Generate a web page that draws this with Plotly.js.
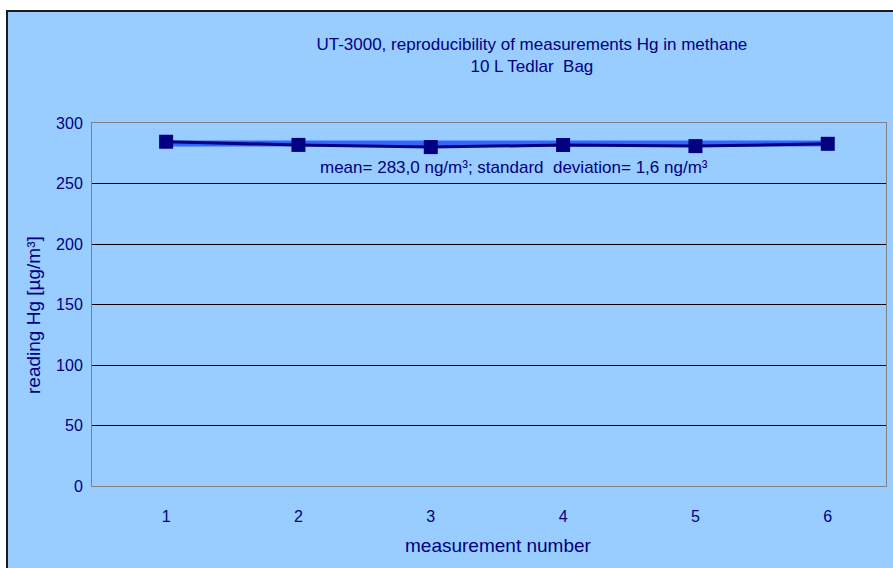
<!DOCTYPE html>
<html>
<head>
<meta charset="utf-8">
<script src="https://cdn.plot.ly/plotly-3.0.1.min.js"></script>
<style>
  html, body { margin:0; padding:0; background:#ffffff; width:893px; height:568px; overflow:hidden; }
  #frame { position:absolute; left:6px; top:10px; width:887px; height:558px; border-left:2px solid #1a1a1a; border-top:2px solid #1a1a1a; box-sizing:border-box; background:#99CCFF; }
  #chart { position:absolute; left:8px; top:12px; width:885px; height:556px; }
</style>
</head>
<body>
<div id="frame"></div>
<div id="chart"></div>
<script>
// Data
const measurementNumbers = [1, 2, 3, 4, 5, 6];
const readingsHg = [284.5, 281.9, 280.1, 281.8, 280.9, 282.8];
const meanValue = [283, 283, 283, 283, 283, 283];
const yTickValues = [0, 50, 100, 150, 200, 250, 300];
const titleText = "UT-3000, reproducibility of measurements Hg in methane<br>10 L Tedlar  Bag";
const xTitleText = "measurement number";
const yTitleText = "reading Hg [µg/m³]";
const noteText = "mean= 283,0 ng/m³; standard  deviation= 1,6 ng/m³";

const navy = "#000080";
const font = "Liberation Sans, Arial, sans-serif";

// plot area in page pixels (for placing free text only)
const PX0 = 92, PX1 = 886, PY0 = 123, PY1 = 486;
const px2paperX = p => (p - PX0) / (PX1 - PX0);
const px2paperY = p => (PY1 - p) / (PY1 - PY0);

const traces = [
  {
    x: measurementNumbers, y: meanValue, type: "scatter", mode: "lines",
    line: { color: "#3366FF", width: 6 }, hoverinfo: "skip", showlegend: false
  },
  {
    x: measurementNumbers, y: readingsHg, type: "scatter", mode: "lines+markers",
    line: { color: navy, width: 3 },
    marker: { symbol: "square", size: 14, color: navy },
    showlegend: false
  }
];

const layout = {
  width: 885, height: 556,
  margin: { l: 84, r: 7, t: 111, b: 82 },
  paper_bgcolor: "#99CCFF",
  plot_bgcolor: "#99CCFF",
  font: { family: font, color: navy, size: 16 },
  title: {
    text: titleText,
    font: { family: font, size: 17, color: navy },
    xref: "paper", x: 0.554, xanchor: "center",
    yref: "container", y: 0.932, yanchor: "middle"
  },
  xaxis: {
    range: [0.44, 6.44],
    tickvals: measurementNumbers,
    ticktext: measurementNumbers.map(String),
    showgrid: false, zeroline: false,
    showline: true, linecolor: "#808080", linewidth: 1, mirror: true,
    ticks: "", ticklabelstandoff: 16,
    tickfont: { family: font, size: 16, color: navy }
  },
  yaxis: {
    range: [0, 300],
    tickvals: yTickValues,
    showgrid: true, gridcolor: "#000000", gridwidth: 1,
    zeroline: false,
    showline: true, linecolor: "#808080", linewidth: 1, mirror: true,
    ticks: "", ticklabelstandoff: 5,
    tickfont: { family: font, size: 16, color: navy }
  },
  annotations: [
    {
      text: noteText, xref: "paper", yref: "paper",
      x: px2paperX(514), y: px2paperY(167),
      xanchor: "center", yanchor: "middle", showarrow: false,
      font: { family: font, size: 17, color: navy }
    },
    {
      text: xTitleText, xref: "paper", yref: "paper",
      x: px2paperX(499), y: px2paperY(545),
      xanchor: "center", yanchor: "middle", showarrow: false,
      font: { family: font, size: 19, color: navy }
    },
    {
      text: yTitleText, xref: "paper", yref: "paper", textangle: -90,
      x: px2paperX(33), y: px2paperY(315),
      xanchor: "center", yanchor: "middle", showarrow: false,
      font: { family: font, size: 19, color: navy }
    }
  ]
};

Plotly.newPlot("chart", traces, layout, { displayModeBar: false, staticPlot: true });
</script>
</body>
</html>
